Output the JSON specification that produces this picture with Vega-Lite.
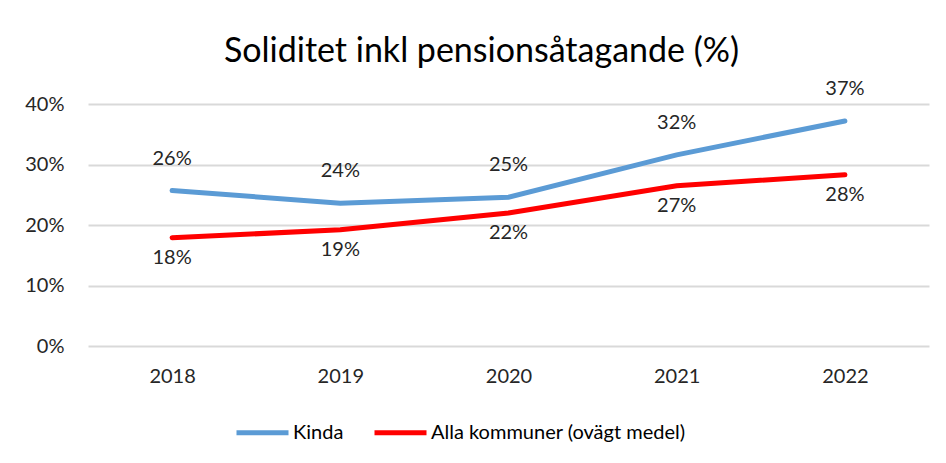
{
  "$schema": "https://vega.github.io/schema/vega-lite/v6.json",
  "width": 841,
  "height": 242,
  "autosize": {"type": "none"},
  "padding": {"left": 88, "top": 104, "right": 17, "bottom": 117},
  "background": "white",
  "config": {
    "font": "Lato",
    "view": {"stroke": null},
    "axis": {"labelFont": "Lato", "labelColor": "#262626", "labelFontSize": 20}
  },
  "title": {
    "text": "Soliditet inkl pensionsåtagande (%)",
    "font": "Lato",
    "fontSize": 34,
    "fontWeight": "normal",
    "color": "#000000",
    "anchor": "middle",
    "offset": 10,
    "dx": -27
  },
  "data": {
    "values": [
      {"year": "2018", "series": "Kinda", "value": 0.257},
      {"year": "2019", "series": "Kinda", "value": 0.236},
      {"year": "2020", "series": "Kinda", "value": 0.246},
      {"year": "2021", "series": "Kinda", "value": 0.316},
      {"year": "2022", "series": "Kinda", "value": 0.372},
      {"year": "2018", "series": "Alla kommuner (ovägt medel)", "value": 0.179},
      {"year": "2019", "series": "Alla kommuner (ovägt medel)", "value": 0.192},
      {"year": "2020", "series": "Alla kommuner (ovägt medel)", "value": 0.220},
      {"year": "2021", "series": "Alla kommuner (ovägt medel)", "value": 0.265},
      {"year": "2022", "series": "Alla kommuner (ovägt medel)", "value": 0.283}
    ]
  },
  "encoding": {
    "x": {
      "field": "year",
      "type": "ordinal",
      "scale": {"type": "point", "padding": 0.5},
      "axis": {"title": null, "labelAngle": 0, "domain": false, "ticks": false, "labelPadding": 20, "grid": false}
    },
    "y": {
      "field": "value",
      "type": "quantitative",
      "scale": {"domain": [0, 0.4]},
      "axis": {"title": null, "format": ".0%", "values": [0, 0.1, 0.2, 0.3, 0.4], "domain": false, "ticks": false, "labelPadding": 24, "gridColor": "#d9d9d9", "gridWidth": 2}
    }
  },
  "layer": [
    {
      "mark": {"type": "line", "strokeWidth": 5, "strokeCap": "round"},
      "encoding": {
        "color": {
          "field": "series",
          "type": "nominal",
          "scale": {"domain": ["Kinda", "Alla kommuner (ovägt medel)"], "range": ["#5b9bd5", "#ff0000"]},
          "legend": {
            "title": null,
            "orient": "none",
            "direction": "horizontal",
            "legendX": 146,
            "legendY": 300,
            "symbolType": "stroke",
            "symbolStrokeWidth": 5,
            "symbolSize": 2704,
            "labelFont": "Lato",
            "labelFontSize": 20,
            "labelColor": "#000000",
            "labelOffset": 2,
            "columnPadding": 20,
            "labelLimit": 400
          }
        }
      }
    },
    {
      "transform": [{"filter": "datum.series === 'Kinda'"}],
      "mark": {"type": "text", "dy": -32, "fontSize": 20, "font": "Lato", "color": "#262626"},
      "encoding": {"text": {"field": "value", "type": "quantitative", "format": ".0%"}}
    },
    {
      "transform": [{"filter": "datum.series !== 'Kinda'"}],
      "mark": {"type": "text", "dy": 20, "fontSize": 20, "font": "Lato", "color": "#262626"},
      "encoding": {"text": {"field": "value", "type": "quantitative", "format": ".0%"}}
    }
  ]
}
